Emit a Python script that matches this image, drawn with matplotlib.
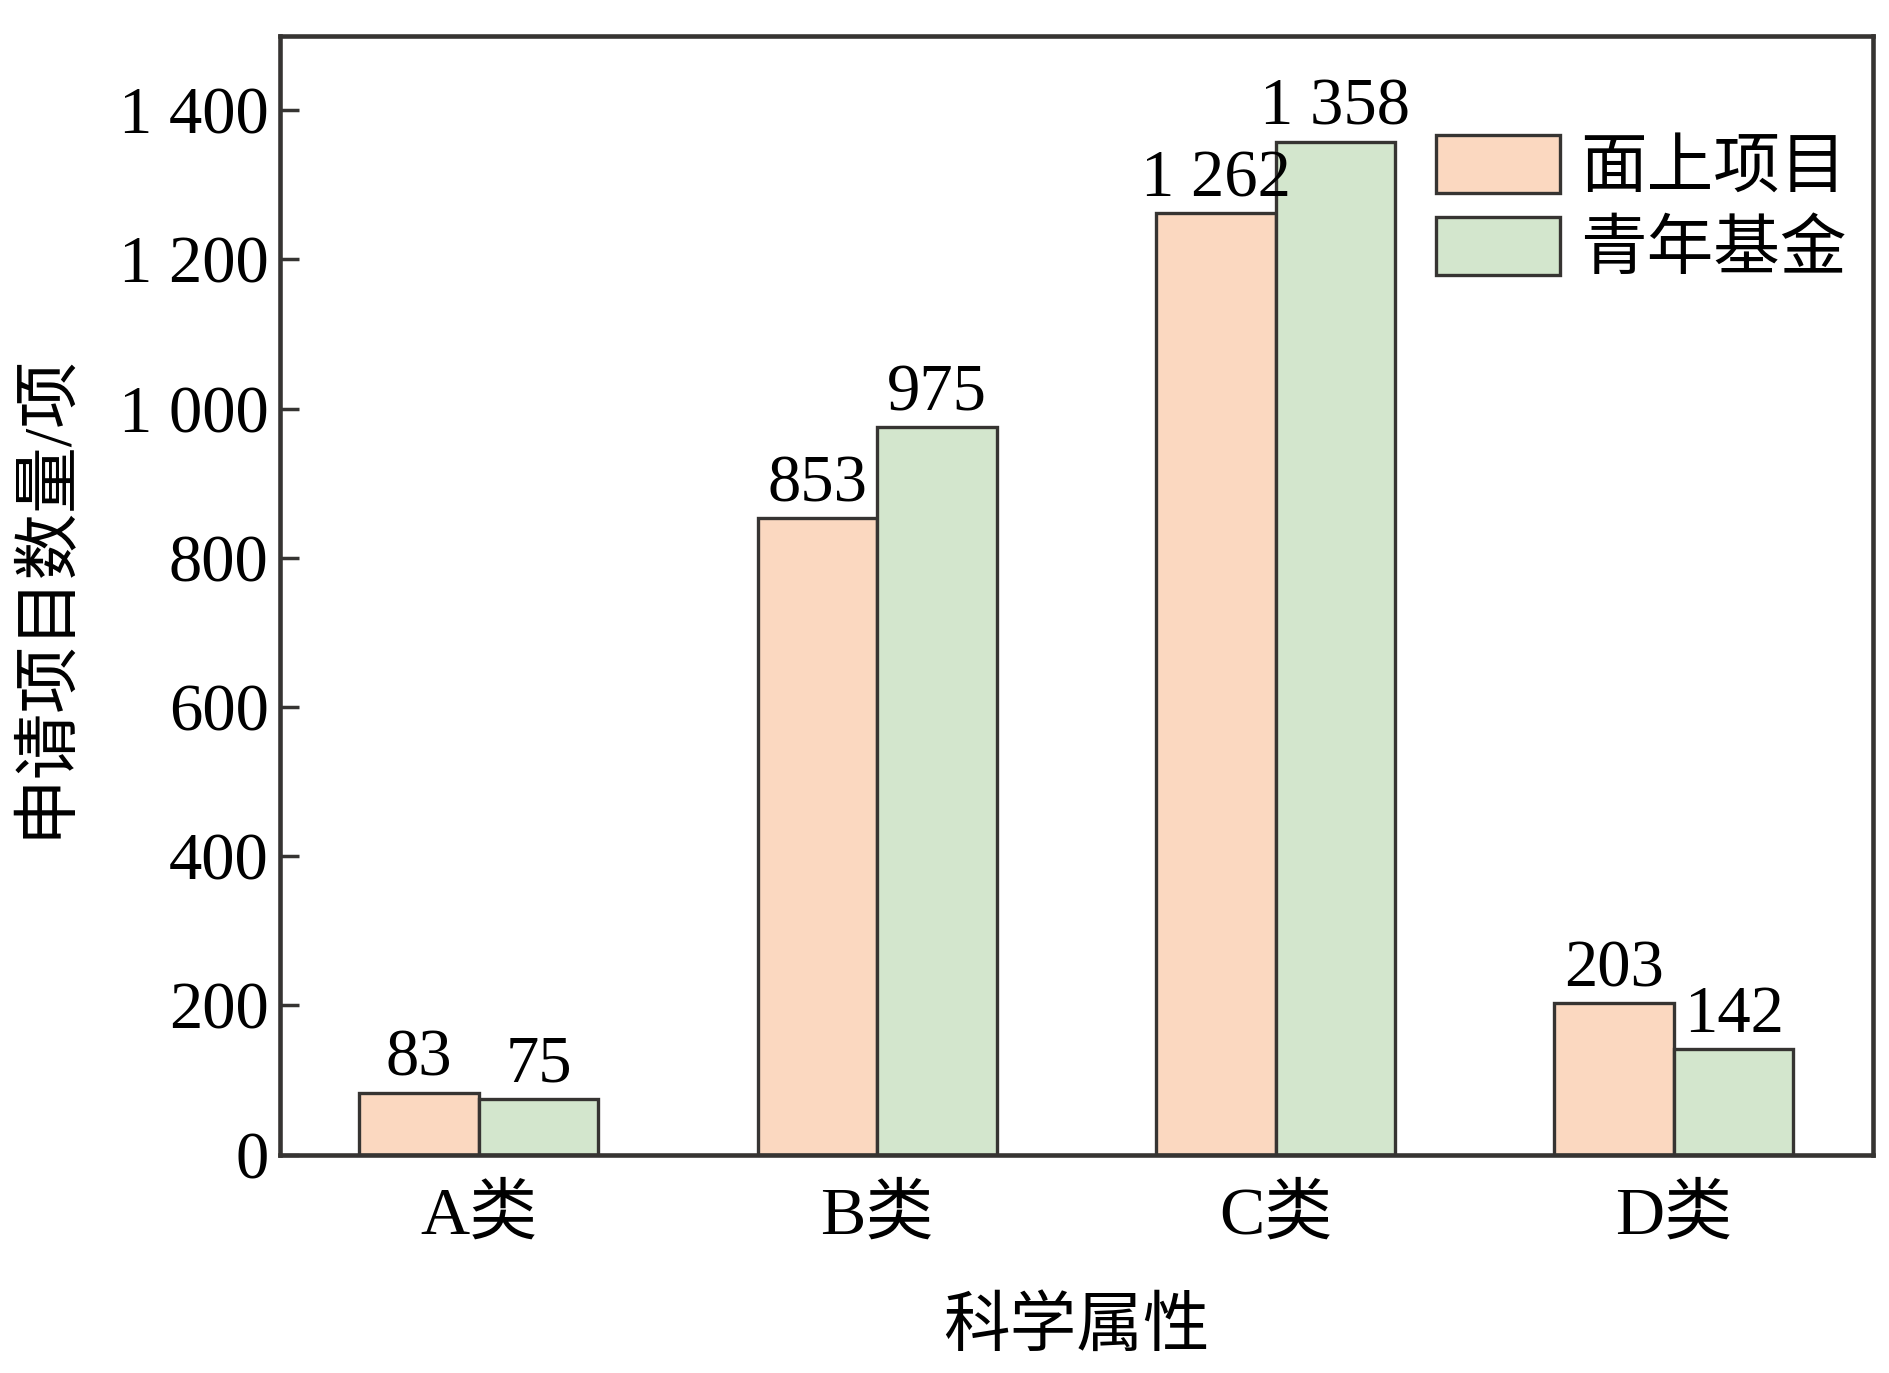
import matplotlib
matplotlib.use("Agg")
import matplotlib.pyplot as plt
import numpy as np

plt.rcParams['font.family'] = ['Liberation Serif', 'Noto Sans CJK SC']

categories = ["A类", "B类", "C类", "D类"]
series_names = ["面上项目", "青年基金"]
mianshang = [83, 853, 1262, 203]
qingnian = [75, 975, 1358, 142]
yticks = [0, 200, 400, 600, 800, 1000, 1200, 1400]

def fmt(v):
    return f"{v:,}".replace(",", " ")

fig = plt.figure(figsize=(18.9, 13.73), dpi=100)
ax = fig.add_axes([0.148, 0.159, 0.843, 0.815])

x = np.arange(len(categories))
w = 0.30
edge = "#363432"
b1 = ax.bar(x - w / 2, mianshang, w, color="#fbd8c0", edgecolor=edge,
            linewidth=2.4, label=series_names[0])
b2 = ax.bar(x + w / 2, qingnian, w, color="#d3e6cd", edgecolor=edge,
            linewidth=2.4, label=series_names[1])

for bars, vals in ((b1, mianshang), (b2, qingnian)):
    for r, v in zip(bars, vals):
        ax.text(r.get_x() + r.get_width() / 2, v + 4, fmt(v),
                ha="center", va="bottom", fontsize=48)

ax.set_xlim(-0.5, 3.5)
ax.set_ylim(0, 1500)
ax.set_yticks(yticks)
ax.set_yticklabels([fmt(t) for t in yticks])
ax.set_xticks(x)
ax.set_xticklabels(categories)
ax.tick_params(axis="y", direction="in", length=14, width=2.5,
               labelsize=48, pad=8, color=edge)
ax.tick_params(axis="x", length=0, labelsize=49, pad=22)

for s in ax.spines.values():
    s.set_linewidth(3.3)
    s.set_color(edge)

ax.set_xlabel("科学属性", fontsize=48, labelpad=36)
ax.set_ylabel("申请项目数量/项", fontsize=48, labelpad=30)

ax.legend(loc="upper right", bbox_to_anchor=(1.0, 0.935), frameon=False,
          fontsize=48, handlelength=1.85, handleheight=0.95,
          handletextpad=0.3, labelspacing=0.25, borderaxespad=0)

fig.savefig("out.png", dpi=100)
